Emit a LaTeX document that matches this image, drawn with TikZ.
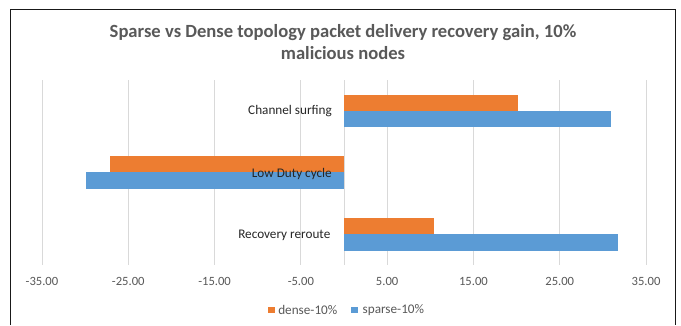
\documentclass[tikz,border=0pt]{standalone}
\usepackage{fontspec}
\setmainfont{Carlito}
\usetikzlibrary{positioning}
\definecolor{densecol}{RGB}{237,125,49}
\definecolor{sparsecol}{RGB}{91,155,213}
\definecolor{gridcol}{RGB}{217,217,217}
\definecolor{labelcol}{RGB}{89,89,89}
\tikzset{
  gridline/.style={draw=gridcol, line width=0.9pt},
  densebar/.style={fill=densecol},
  sparsebar/.style={fill=sparsecol},
  charttitle/.style={text=labelcol, align=center, font=\bfseries\fontsize{18.6}{22.7}\selectfont},
  ticklabel/.style={text=labelcol, inner sep=0pt, font=\fontsize{12.6}{14}\selectfont},
  catlabel/.style={text=black!85, inner sep=0pt, anchor=east, font=\fontsize{13.2}{15}\selectfont},
  legendkey/.style={fill=#1, minimum size=6.6pt, inner sep=0pt},
  legendtext/.style={text=labelcol, inner sep=0pt, font=\fontsize{13.2}{15}\selectfont}
}

\begin{document}
\begin{tikzpicture}[x=1pt, y=-1pt]
  \useasboundingbox[fill=white] (0,0) rectangle (681,325);
  % chart frame
  \draw[black!90, line width=1pt] (10.7,325) -- (10.7,9.3) -- (675,9.3) -- (675,325);
  \node[charttitle] (title) at (343,42) {Sparse vs Dense topology packet delivery recovery gain, 10\%\\malicious nodes};

  % plot area: zero at x=344, 8.63 per unit
  \begin{scope}[x=8.63pt, shift={(344pt,0pt)}]
    \foreach \v in {-35,-25,...,35}{
      \draw[gridline] (\v,80) -- (\v,265);
      \node[ticklabel] (tick\v) at (\v,281.7) {\v.00};
    }
    \draw[gridline] (0,80) -- (0,265);
    % bars
    \foreach \yc/\dv/\sv in {110.8/20.2/30.9, 172.4/-27.1/-29.9, 234.0/10.4/31.8}{
      \fill[densebar] (0,\yc-16.1) rectangle (\dv,\yc);
      \fill[sparsebar] (0,\yc) rectangle (\sv,\yc+16.6);
    }
  \end{scope}

  % category labels
  \node[catlabel] (chansurf) at (332,111.5) {Channel surfing};
  \node[catlabel] (lowduty) at (332,174) {Low Duty cycle};
  \node[catlabel] (recov) at (330.5,235) {Recovery reroute};

  % legend
  \node[legendkey=densecol] (densekey) at (271.6,310) {};
  \node[legendtext, right=3pt of densekey] (densetxt) {dense-10\%};
  \node[legendkey=sparsecol] (sparsekey) at (354.5,310) {};
  \node[legendtext, right=4.5pt of sparsekey] (sparsetxt) {sparse-10\%};
\end{tikzpicture}
\end{document}
